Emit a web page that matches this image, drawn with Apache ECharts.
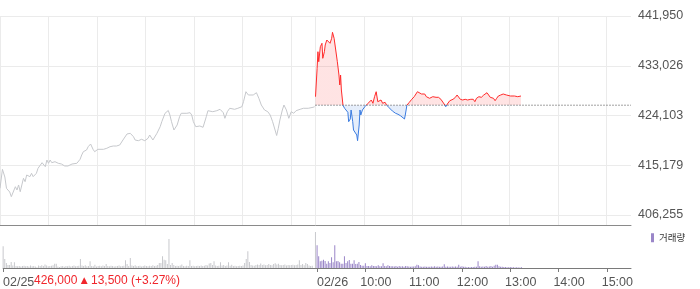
<!DOCTYPE html>
<html><head><meta charset="utf-8">
<script src="https://cdn.jsdelivr.net/npm/echarts@6/dist/echarts.min.js"></script>
<style>html,body{margin:0;padding:0;background:#fff}#c{width:700px;height:289px}</style>
</head><body><div id="c"></div>
<script>
// ---------- data ----------
const yTickLabels = [406255, 415179, 424103, 433026, 441950];
const dateLabels = ['02/25', '02/26'];
const hourLabels = ['10:00', '11:00', '12:00', '13:00', '14:00', '15:00'];
const prevClose = 425950;
const summaryText = ['426,000', '▲', '13,500 (+3.27%)'];
const volumeLegend = '거래량';

// minutes after 09:00, day 1 (02/25)
const day1Minutes = [0,3,6,8,10,12,14,16,19,21,23,25,27,29,31,33,37,39,41,43,45,47,52,53,56,58,60,62,64,68,72,76,80,84,89,91,95,99,101,103,107,109,112,115,117,121,128,132,134,136,140,144,148,152,157,161,163,165,167,171,175,179,183,185,189,194,198,200,204,208,210,212,215,219,222,224,231,235,237,239,242,247,251,255,257,263,268,272,276,278,281,284,290,294,299,301,304,307,309,313,317,320,323,327,331,334,337,340,342,344,346,349,351,354,357,360,363,366,371,375,381,387,389];
const day1Prices = [411040,414450,413070,411040,410740,410380,409540,409540,411330,410740,411640,410430,411640,412840,412230,413430,413130,413735,413130,413430,413735,414630,415640,415815,414920,416120,415530,416120,415640,415815,415530,415400,415045,415045,415400,415640,415530,416245,417020,417610,417915,418505,418990,418040,417610,418040,418040,418220,418040,418505,418630,418630,418810,419710,420785,420910,420605,420300,419710,419580,419835,419580,420015,420605,419710,420910,422095,422990,424500,425000,424190,422990,421500,422400,423890,424500,424500,424605,424190,422990,422095,422220,421985,423890,424965,424785,424965,425215,424605,423600,424785,425395,425215,425395,425680,426580,428370,427780,427475,427780,428190,427190,425985,425090,424785,424190,422990,421500,420515,421805,423295,425090,425985,425090,423600,424785,424500,424965,425215,425395,425395,425575,425680];

// minutes after 09:00, day 2 (02/26)
const day2Minutes = [0,2,3,4,6,8,9,11,12,14,16,18,20,21,23,25,27,29,30,31,32,34,36,38,40,41,43,44,46,47,49,51,52,54,55,56,58,61,63,65,67,69,71,73,75,77,79,81,83,86,88,91,95,99,102,105,107,110,111,113,116,119,122,124,126,128,131,133,135,137,139,141,143,145,147,149,152,155,157,159,161,163,166,168,170,173,175,177,179,182,185,188,192,195,197,199,202,205,208,210,212,214,216,218,220,222,224,226,229,232,236,238,241,243,246,248,250,252,254];
const day2Prices = [427475,432570,435545,433750,436445,437055,434360,435545,436750,437645,437950,437055,437950,439025,437950,435850,433750,431365,429575,431365,428675,425900,425395,425500,424675,422990,423475,425090,422990,421500,421805,420605,419580,422400,425090,424190,425090,425680,425395,426290,425985,426885,426290,427475,428370,426580,426290,426885,426290,426470,425950,425500,424910,424500,424320,424065,424190,423475,424190,425950,426470,427010,427475,427780,428370,428190,427960,427780,427960,427475,427600,427190,427365,427475,427190,427365,427365,427010,426755,426165,425680,426165,426755,426885,427010,427365,427780,427600,427010,426885,427010,426885,427010,427010,426580,427190,427475,427365,427780,427475,428190,427960,427365,427475,427190,426755,427190,427600,427780,427960,427780,427835,427600,427780,427600,427780,427475,427655,427600];

// volume, one value per 2 minutes from 09:00
const day1Volume = [21.7,9,5,3,3,6,2.5,5.7,2,1.7,2,1.5,2,2.3,1.7,2,1.5,2.5,1.7,2,1.5,0.7,2.5,2,2.7,2,3.5,2.5,1.7,2,2.3,2.7,4.3,4.3,1.5,1,1.7,2,1.3,2,1.7,2.3,1.5,2,2.5,1.7,2,2.3,9,2.5,2,2.7,1.7,2,6.7,2,1.7,3.3,1.5,2,2.3,1.7,2.5,2,4,2,1.7,2.3,2,1.5,1.7,2,2.5,1.7,2,2.3,7.7,4,2,10,2.5,2,2.7,1.7,2,2.3,1.5,2,2.5,2,1.7,2.3,2,2.7,2,2.3,3,5,5,11.7,8.3,7.7,4,29,3,5,3,2,2.3,2,2.5,3.5,2,1.7,2.3,2,7.7,2,2.3,1.7,2,2.3,2,2.5,2,2.3,3,2.5,4.5,5,3,6.7,2.5,2,2.3,5.7,2.5,3,2,2.5,5.7,2.3,3.3,2,2.3,1.7,2,2.3,2,2.5,5,9,16.7,6,3,2.5,2.3,3,3.5,3,4.5,3,3.5,2.7,3,4,3,2.7,4,4.7,3.5,4.3,3,2.7,3,3.5,2.5,3,2.7,3,3.3,2.7,3,3.5,7.7,3,4,2.7,5,4,2.5,2,2.3,0,36];
const day2Volume = [22.7,11.7,6.7,7.3,8.3,7,4.3,6.7,5,10.7,5.7,22.7,6.7,7,5.7,4.3,4.3,11.7,5,6.7,8,4.3,4.3,7.7,4,4.3,6,3,2.3,2.3,4.7,2,2,1.7,2.7,2,2,1.7,2.7,1.7,1.7,4.7,2,1.7,2.7,2,1.7,1.7,1.5,2,1.3,2,1.5,1.7,1.3,2,1.7,1.5,1.3,1.5,1.5,1.7,3.3,2.7,1.5,1.3,1.3,1.5,1.3,1.3,1.3,1.5,1.3,1.7,1.3,1.5,1.3,1.3,1.5,3.7,1.3,1.5,1.3,1.3,1.5,1.3,1.5,1.3,3.3,1.3,1.7,1.3,1.3,0.7,1,0.7,1,1,1.3,1.3,6.7,1.7,1.3,1.5,1.3,2,1.3,1.5,2,1.3,2.3,3.3,3.3,1.7,1.3,1.3,1,1,0.7,0.7,1,0.7,0.7,0.5,0.7,0.5,0.5,0.7];

// ---------- chart ----------
const SESSION = 390;            // minutes in one trading session
const VOL_STEP = 2;             // minutes per volume value
const OFFSET = yTickLabels[0];
const INTERVAL = (yTickLabels[yTickLabels.length - 1] - OFFSET) / (yTickLabels.length - 1);
const Y_MAX = yTickLabels[yTickLabels.length - 1] - OFFSET;
const BASE = prevClose - OFFSET;
const categories = Array.from({length: 2 * SESSION + 1}, (_, i) => i);

const gridMinutes = new Set();
for (let h = 0; h <= 6; h++) { gridMinutes.add(h * 60); gridMinutes.add(SESSION + h * 60); }
const labelAt = {0: dateLabels[0], [SESSION]: dateLabels[1]};
hourLabels.forEach((t, k) => { labelAt[SESSION + 60 * (k + 1)] = t; });

const FONT = '"Liberation Sans", "Noto Sans CJK KR", sans-serif';
const RED = '#ff2b2b', BLUE = '#3a7be0', GRID = '#ebebeb';
const fmt = n => String(n).replace(/\B(?=(\d{3})+(?!\d))/g, ',');
const vSplit = {show: true, interval: (i) => gridMinutes.has(i), lineStyle: {color: GRID, width: 1}};

const chart = echarts.init(document.getElementById('c'), null, {renderer: 'canvas', width: 700, height: 289});
chart.setOption({
  animation: false,
  backgroundColor: '#fff',
  grid: [
    {left: 0, top: 16, width: 631, height: 199},   // price
    {left: 0, top: 215, width: 631, height: 10},   // price lower margin
    {left: 0, top: 228, width: 631, height: 40}    // volume
  ],
  xAxis: [
    {type: 'category', gridIndex: 0, data: categories, boundaryGap: false,
     axisLine: {show: false}, axisTick: {show: false}, axisLabel: {show: false}, splitLine: vSplit},
    {type: 'category', gridIndex: 1, data: categories, boundaryGap: false,
     axisLine: {show: true, onZero: false, lineStyle: {color: '#8a8a8a', width: 1}},
     axisTick: {show: false}, axisLabel: {show: false}, splitLine: vSplit},
    {type: 'category', gridIndex: 2, data: categories, boundaryGap: false,
     axisLine: {show: true, onZero: false, lineStyle: {color: '#7a7a7a', width: 1}},
     axisTick: {show: true, length: 4, interval: (i) => (i in labelAt), lineStyle: {color: '#7a7a7a'}},
     splitLine: {show: false},
     axisLabel: {interval: (i) => (i in labelAt), margin: 8, fontFamily: FONT, fontSize: 12.5, color: '#555',
       formatter: (v) => {
         const s = labelAt[Number(v)];
         if (!s) return '';
         return (s.indexOf('/') >= 0 ? '{d|' : '{t|') + s + '}';
       },
       rich: {
         d: {padding: [0, 0, 0, 31], fontFamily: FONT, fontSize: 12.5, color: '#555'},
         t: {padding: [0, 0, 0, 21], fontFamily: FONT, fontSize: 12.5, color: '#555'}
       }}}
  ],
  yAxis: [
    {type: 'value', gridIndex: 0, position: 'right', min: 0, max: Y_MAX, interval: INTERVAL,
     axisLine: {show: false}, axisTick: {show: false},
     axisLabel: {margin: 7, fontFamily: FONT, fontSize: 12.5, color: '#555',
       formatter: (v) => fmt(Math.round(v + OFFSET))},
     splitLine: {show: true, lineStyle: {color: GRID, width: 1}}},
    {type: 'value', gridIndex: 1, min: 0, max: 1, show: false},
    {type: 'value', gridIndex: 2, min: 0, max: 40, show: false}
  ],
  visualMap: {
    type: 'piecewise', show: false, seriesIndex: 1, dimension: 1,
    min: -INTERVAL, max: Y_MAX + INTERVAL,
    pieces: [
      {gte: -INTERVAL, lte: BASE, color: BLUE},
      {gt: BASE, lte: Y_MAX + INTERVAL, color: RED}
    ]
  },
  legend: {
    data: [volumeLegend], left: 651, top: 233, icon: 'rect', itemWidth: 3, itemHeight: 9,
    padding: 0, selectedMode: false,
    textStyle: {fontFamily: '"Noto Sans CJK KR", sans-serif', fontSize: 9.5, color: '#333'}
  },
  series: [
    {name: '02/25', type: 'line', xAxisIndex: 0, yAxisIndex: 0, symbol: 'none', silent: true, z: 2,
     lineStyle: {color: '#c6c8cc', width: 1}, itemStyle: {color: '#c6c8cc'},
     data: day1Minutes.map((m, i) => [m, day1Prices[i] - OFFSET])},
    {name: '02/26', type: 'line', xAxisIndex: 0, yAxisIndex: 0, symbol: 'none', silent: true, z: 3,
     lineStyle: {width: 1}, areaStyle: {origin: BASE, opacity: 0.13},
     data: day2Minutes.map((m, i) => [SESSION + m, day2Prices[i] - OFFSET])},
    {name: 'prevClose', type: 'line', xAxisIndex: 0, yAxisIndex: 0, symbol: 'none', silent: true, z: 4,
     lineStyle: {color: '#444', width: 1, type: [1, 2]}, itemStyle: {color: '#444'},
     data: [[SESSION, BASE], [2 * SESSION, BASE]]},
    {name: 'vol1', type: 'bar', xAxisIndex: 2, yAxisIndex: 2, barWidth: 1, barGap: '-100%', silent: true,
     itemStyle: {color: '#c8c9cd'},
     data: day1Volume.map((v, i) => [i * VOL_STEP, v])},
    {name: volumeLegend, type: 'bar', xAxisIndex: 2, yAxisIndex: 2, barWidth: 1, barGap: '-100%', silent: true,
     itemStyle: {color: '#9a86c8'},
     data: day2Volume.map((v, i) => [SESSION + i * VOL_STEP, v])}
  ],
  graphic: [{
    type: 'text', left: 34, top: 275, silent: true,
    style: {
      text: summaryText[0] + ' {a|' + summaryText[1] + '} ' + summaryText[2],
      fill: '#f0262c', font: '12px ' + FONT,
      rich: {a: {fill: '#f0262c', fontSize: 9, fontFamily: '"DejaVu Sans", sans-serif'}}
    }
  }]
});
</script></body></html>
